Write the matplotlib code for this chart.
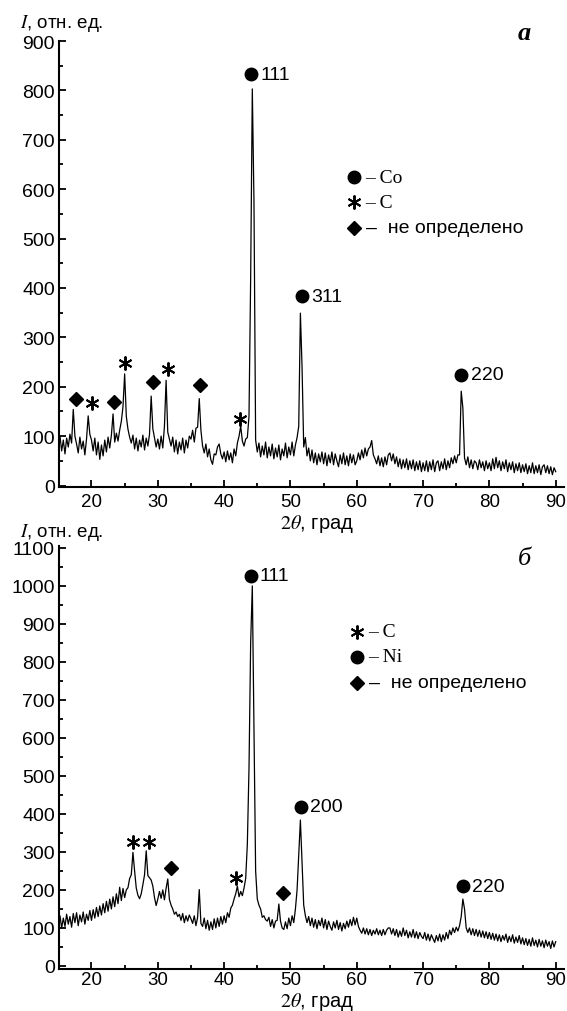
import numpy as np
import matplotlib
matplotlib.use("Agg")
import matplotlib.pyplot as plt
from matplotlib.ticker import MultipleLocator

plt.rcParams['font.family'] = ['Liberation Sans', 'DejaVu Sans']
plt.rcParams['mathtext.fontset'] = 'stix'

# ---------------- data ----------------
two_theta = np.arange(15.0, 90.0001, 0.25)

# panel a (Co)
intensity_co = [
    82, 100, 70, 92, 64, 96, 78, 104, 86, 154, 100, 84, 66, 98, 74, 90, 62, 94, 141, 104,
    92, 70, 96, 62, 88, 53, 82, 60, 92, 68, 98, 76, 102, 145, 88, 106, 90, 112, 130, 160,
    226, 140, 114, 98, 86, 102, 74, 96, 70, 92, 78, 102, 72, 96, 80, 104, 181, 115, 96, 78,
    94, 74, 100, 76, 120, 213, 108, 94, 80, 98, 68, 92, 64, 88, 72, 96, 66, 92, 76, 100,
    94, 112, 88, 116, 118, 176, 112, 80, 66, 84, 58, 74, 52, 43, 64, 62, 78, 84, 64, 54,
    68, 48, 70, 52, 66, 46, 74, 60, 86, 100, 120, 90, 80, 94, 97, 140, 420, 803, 575, 92,
    68, 86, 58, 80, 62, 88, 56, 78, 60, 84, 54, 76, 58, 82, 52, 74, 60, 86, 56, 78,
    62, 88, 60, 82, 97, 120, 349, 240, 78, 97, 60, 76, 50, 72, 46, 66, 42, 64, 48, 68,
    44, 66, 40, 62, 46, 68, 42, 64, 50, 38, 62, 44, 66, 42, 60, 40, 64, 46, 62, 42,
    50, 66, 52, 72, 56, 76, 60, 74, 78, 91, 62, 54, 44, 60, 40, 56, 38, 58, 42, 62,
    66, 50, 64, 44, 58, 38, 54, 34, 52, 36, 54, 32, 50, 34, 52, 30, 48, 32, 50, 28,
    46, 30, 50, 28, 48, 32, 52, 28, 46, 50, 30, 48, 34, 54, 32, 50, 36, 56, 44, 60,
    46, 62, 62, 191, 157, 56, 42, 58, 36, 52, 34, 50, 46, 32, 52, 36, 48, 30, 50, 34,
    46, 30, 54, 34, 57, 36, 50, 30, 48, 34, 52, 28, 46, 32, 48, 26, 44, 30, 46, 26,
    42, 28, 44, 24, 40, 26, 46, 24, 40, 26, 42, 22, 38, 42, 26, 40, 24, 38, 22, 36,
    28,
]

# panel b (Ni)
intensity_ni = [
    108, 132, 100, 126, 104, 136, 110, 130, 102, 138, 114, 140, 106, 134, 116, 142, 110, 136, 120, 146,
    120, 148, 126, 154, 130, 158, 134, 164, 140, 170, 144, 176, 150, 182, 156, 190, 164, 207, 172, 204,
    180, 200, 206, 230, 240, 299, 250, 205, 186, 177, 190, 214, 240, 303, 238, 232, 226, 210, 180, 159,
    176, 196, 178, 200, 174, 204, 229, 175, 160, 150, 136, 142, 130, 136, 120, 138, 114, 132, 118, 134,
    124, 112, 132, 106, 128, 201, 112, 104, 126, 98, 120, 94, 116, 96, 124, 100, 126, 104, 130, 110,
    132, 114, 140, 128, 152, 160, 176, 190, 210, 182, 196, 185, 205, 230, 320, 520, 850, 1000, 620, 250,
    176, 160, 150, 128, 132, 122, 118, 128, 104, 122, 100, 118, 120, 163, 118, 100, 96, 116, 98, 126,
    106, 132, 114, 150, 200, 290, 384, 270, 160, 132, 114, 130, 106, 126, 102, 122, 98, 120, 106, 126,
    100, 122, 96, 118, 104, 94, 116, 100, 120, 96, 114, 92, 112, 98, 118, 102, 122, 106, 128, 108,
    126, 104, 94, 86, 100, 84, 98, 82, 96, 80, 94, 84, 98, 82, 94, 80, 96, 82, 94, 100,
    100, 84, 98, 80, 96, 76, 92, 78, 100, 80, 94, 74, 90, 76, 96, 74, 90, 72, 88, 78,
    72, 88, 68, 84, 66, 82, 72, 62, 80, 66, 84, 64, 82, 68, 88, 72, 94, 82, 100, 88,
    102, 92, 106, 130, 176, 150, 100, 88, 100, 82, 98, 80, 96, 78, 94, 76, 92, 74, 90, 72,
    88, 70, 86, 68, 84, 66, 82, 64, 80, 68, 84, 62, 78, 64, 82, 60, 76, 62, 80, 58,
    74, 56, 72, 54, 70, 52, 74, 54, 68, 50, 70, 52, 66, 48, 68, 52, 64, 46, 66, 50,
    64,
]

# peak annotations (2theta, intensity)
co_circles_x = [44.03, 51.68, 75.67]
co_circles_y = [833, 383, 224]
co_circle_labels = ['111', '311', '220']
co_stars_x = [20.09, 25.1, 31.48, 42.4]
co_stars_y = [167, 248, 235, 135]
co_diam_x = [17.7, 23.34, 29.34, 36.4]
co_diam_y = [175, 169, 210, 203]

ni_circles_x = [44.07, 51.6, 76.06]
ni_circles_y = [1027, 419, 210]
ni_circle_labels = ['111', '200', '220']
ni_stars_x = [26.25, 28.6, 41.83]
ni_stars_y = [325, 325, 232]
ni_diam_x = [32.0, 48.83]
ni_diam_y = [258, 192]

# ---------------- figure ----------------
W, H = 567, 1012
fig = plt.figure(figsize=(W / 100, H / 100), dpi=100)
ax1 = fig.add_axes([59 / W, 1 - 488 / H, 505 / W, 446 / H])
ax2 = fig.add_axes([59 / W, 1 - 970 / H, 505 / W, 423 / H])

STAR = (6, 2, 0)
circ_kw = dict(marker='o', color='black', ms=9, ls='none')
star_kw = dict(marker=STAR, color='black', ms=10, mew=1.4, ls='none')
diam_kw = dict(marker='D', color='black', ms=7.5, ls='none')
FS = 14

def style(ax, ylim, xpad):
    ax.set_xlim(15.1, 91.25)
    ax.set_ylim(*ylim)
    for s in ('top', 'right'):
        ax.spines[s].set_visible(False)
    for s in ('left', 'bottom'):
        ax.spines[s].set_linewidth(1.5)
    ax.xaxis.set_major_locator(MultipleLocator(10))
    ax.xaxis.set_minor_locator(MultipleLocator(5))
    ax.yaxis.set_major_locator(MultipleLocator(100))
    ax.yaxis.set_minor_locator(MultipleLocator(50))
    ax.tick_params(which='both', direction='in', width=1.3, labelsize=FS)
    ax.tick_params(axis='x', labelsize=13.5)
    ax.tick_params(which='major', length=5)
    ax.tick_params(which='minor', length=3)
    ax.tick_params(axis='y', pad=3)
    ax.tick_params(axis='x', pad=xpad)

def legend(ax, rows):
    for lx, ly, m, t, fam in rows:
        kw = dict(circ_kw if m == 'o' else (star_kw if m == STAR else diam_kw))
        ax.plot([lx], [ly], transform=ax.transAxes, clip_on=False, **kw)
        ax.text(lx + 0.023, ly, t, transform=ax.transAxes, fontsize=FS,
                va='center', ha='left', family=fam)

# panel a
ax1.plot(two_theta, intensity_co, color='black', lw=0.9)
style(ax1, (-3, 900), 4)
ax1.plot(co_circles_x, co_circles_y, **circ_kw)
for x, y, t in zip(co_circles_x, co_circles_y, co_circle_labels):
    ax1.text(x + 1.5, y, t, fontsize=FS, va='center', ha='left')
ax1.plot(co_stars_x, co_stars_y, **star_kw)
ax1.plot(co_diam_x, co_diam_y, **diam_kw)
legend(ax1, [(0.584, 0.695, 'o', '– Co', 'Liberation Serif'),
             (0.584, 0.639, STAR, '– C', 'Liberation Serif'),
             (0.584, 0.581, 'D', '–  не определено', 'Liberation Sans')])

# panel b
ax2.plot(two_theta, intensity_ni, color='black', lw=0.9)
style(ax2, (-8, 1105), 1.5)
ax2.plot(ni_circles_x, ni_circles_y, **circ_kw)
for x, y, t in zip(ni_circles_x, ni_circles_y, ni_circle_labels):
    ax2.text(x + 1.3, y, t, fontsize=FS, va='center', ha='left')
ax2.plot(ni_stars_x, ni_stars_y, **star_kw)
ax2.plot(ni_diam_x, ni_diam_y, **diam_kw)
legend(ax2, [(0.590, 0.797, STAR, '– C', 'Liberation Serif'),
             (0.590, 0.738, 'o', '– Ni', 'Liberation Serif'),
             (0.590, 0.677, 'D', '–  не определено', 'Liberation Sans')])

# axis captions
fig.text(20 / W, 1 - 24 / H, r'$I$, отн. ед.', fontsize=13.5, va='center', ha='left')
fig.text(20 / W, 1 - 533 / H, r'$I$, отн. ед.', fontsize=13.5, va='center', ha='left')
fig.text(280 / W, 1 - 524 / H, r'$2\theta$, град', fontsize=14.5, va='center', ha='left')
fig.text(280 / W, 1 - 1002 / H, r'$2\theta$, град', fontsize=14.5, va='center', ha='left')

fig.text(524 / W, 1 - 34 / H, 'а', fontsize=19, style='italic', weight='bold',
         family='Liberation Serif', va='center', ha='center')
fig.text(524 / W, 1 - 559 / H, 'б', fontsize=19, style='italic',
         family='Liberation Serif', va='center', ha='center')

fig.savefig('out.png', dpi=100)
